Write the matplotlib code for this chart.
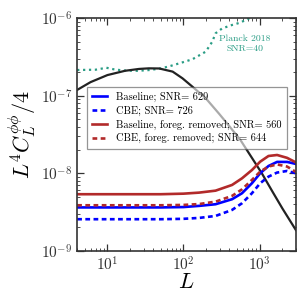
import numpy as np
import matplotlib
matplotlib.use("Agg")
from matplotlib import pyplot as plt

#%% data
L_black = [4, 6, 10, 17, 26, 35, 48, 72, 97, 131, 196, 292, 400, 560, 800, 1070, 1500, 2000, 3000]
clpp = [1.19e-7, 1.5e-7, 1.85e-7, 2.1e-7, 2.22e-7, 2.26e-7, 2.25e-7, 2.05e-7, 1.68e-7, 1.31e-7,
        9.3e-8, 5.9e-8, 4.06e-8, 2.69e-8, 1.56e-8, 1.0e-8, 5.65e-9, 3.5e-9, 1.85e-9]

L_planck = [4, 7, 9.7, 12, 16, 25, 36, 50, 65, 88, 131, 196, 239, 264, 322, 435, 560, 650, 730, 800]
planck = [2.15e-7, 2.17e-7, 2.3e-7, 2.2e-7, 2.12e-7, 2.1e-7, 2.15e-7, 2.25e-7, 2.4e-7, 2.62e-7,
          2.96e-7, 3.71e-7, 4.99e-7, 6.4e-7, 7.4e-7, 8.2e-7, 8.8e-7, 9.5e-7, 1.0e-6, 1.1e-6]

L_noise = [4, 50, 100, 160, 264, 435, 588, 794, 1019, 1311, 1700, 2300, 3000]
base = [3.62e-9, 3.62e-9, 3.66e-9, 3.79e-9, 3.98e-9, 4.62e-9, 5.52e-9, 7.43e-9, 1.0e-8, 1.24e-8, 1.40e-8, 1.40e-8, 1.32e-8]
cbe = [2.55e-9, 2.55e-9, 2.58e-9, 2.65e-9, 2.81e-9, 3.36e-9, 4.1e-9, 5.52e-9, 7.43e-9, 9.04e-9, 1.02e-8, 1.07e-8, 1.0e-8]
base_fg = [5.36e-9, 5.36e-9, 5.45e-9, 5.62e-9, 5.96e-9, 7.06e-9, 8.6e-9, 1.10e-8, 1.41e-8, 1.67e-8, 1.72e-8, 1.58e-8, 1.38e-8]
cbe_fg = [3.86e-9, 3.86e-9, 3.9e-9, 4.0e-9, 4.3e-9, 5.1e-9, 6.2e-9, 8.2e-9, 1.05e-8, 1.22e-8, 1.3e-8, 1.22e-8, 1.04e-8]

labels = ["Baseline; SNR= 629", "CBE; SNR= 726",
          "Baseline, foreg. removed; SNR= 560", "CBE, foreg. removed; SNR= 644"]

#%%
plt.rcParams["font.family"] = "serif"
plt.rcParams["font.serif"] = ["cmr10"]
plt.rcParams["mathtext.fontset"] = "cm"
plt.rcParams["axes.formatter.use_mathtext"] = True

fig = plt.figure(figsize=(3.05, 3.05), dpi=100)
ax = fig.add_axes([0.253, 0.178, 0.717, 0.762])

blue = "#0000ff"
red = "#b22a2a"
dash = (0, (1.8, 1.3))

ax.plot(L_planck, planck, color="#2a9d85", linestyle=":", lw=1.6)
ax.plot(L_black, clpp, color="#222222", lw=1.6)
ax.plot(L_noise, base, color=blue, lw=1.9, label=labels[0])
ax.plot(L_noise, cbe, color=blue, lw=1.9, linestyle=dash, label=labels[1])
ax.plot(L_noise, base_fg, color=red, lw=1.9, label=labels[2])
ax.plot(L_noise, cbe_fg, color=red, lw=1.9, linestyle=dash, label=labels[3])

ax.text(637, 4.7e-7, "Planck 2018\nSNR=40", color="#2a9d85", fontsize=7,
        ha="center", va="center", multialignment="center")

ax.set_xscale("log")
ax.set_yscale("log")
ax.set_xlim(4, 3000)
ax.set_ylim(1e-9, 1e-6)
ax.set_xlabel(r"$L$", fontsize=16, labelpad=-1)
ax.set_ylabel(r"$L^4 C_L^{\phi\phi}/4$", fontsize=16, labelpad=2)

ax.tick_params(which="both", direction="in", top=True, right=True, labelsize=11, colors="#333333")
ax.tick_params(which="major", length=5, width=0.9)
ax.tick_params(which="minor", length=2.5, width=0.6)
for s in ax.spines.values():
    s.set_color("#333333")
    s.set_linewidth(1.2)

leg = ax.legend(loc="upper left", bbox_to_anchor=(0.043, 0.706), borderaxespad=0,
                fontsize=7.5, fancybox=False, edgecolor="#555555", handlelength=1.45,
                handletextpad=0.9, labelspacing=0.35, borderpad=0.5, framealpha=0.62)
leg.get_frame().set_linewidth(0.9)

fig.savefig("out.png", dpi=100)
